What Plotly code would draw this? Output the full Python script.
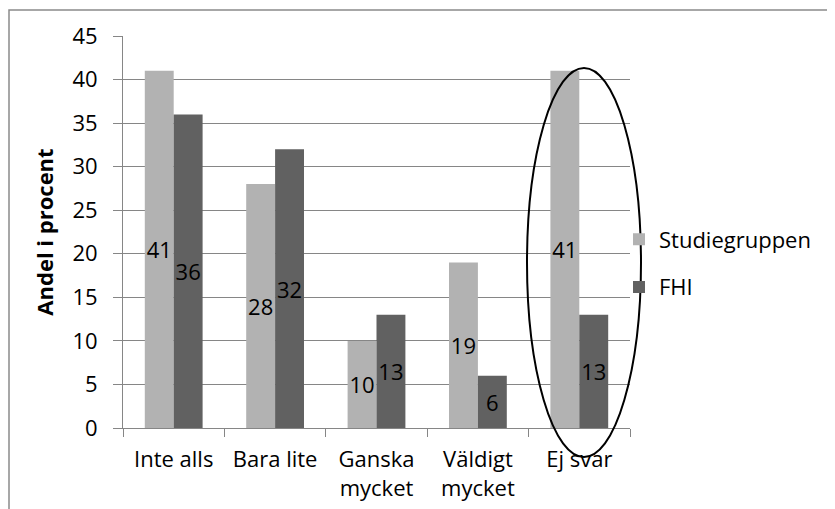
import plotly.graph_objects as go

categories = ["Inte alls", "Bara lite", "Ganska<br>mycket", "Väldigt<br>mycket", "Ej svar"]
studiegruppen = [41, 28, 10, 19, 41]
fhi = [36, 32, 13, 6, 13]
series_names = ["Studiegruppen", "FHI"]
y_ticks = [0, 5, 10, 15, 20, 25, 30, 35, 40, 45]

FONT = "Open Sans"
GRID = "#868686"
FS = 22

fig = go.Figure()
fig.add_trace(go.Bar(
    x=categories, y=studiegruppen, name=series_names[0],
    marker=dict(color="#b2b2b2", line=dict(width=0)),
    text=[str(v) for v in studiegruppen], textposition="inside",
    insidetextanchor="middle", constraintext="none",
    insidetextfont=dict(color="black", size=FS, family=FONT),
    legendgroup="a",
))
fig.add_trace(go.Bar(
    x=categories, y=fhi, name=series_names[1],
    marker=dict(color="#616161", line=dict(width=0)),
    text=[str(v) for v in fhi], textposition="inside",
    insidetextanchor="middle", constraintext="none",
    insidetextfont=dict(color="black", size=FS, family=FONT),
    legendgroup="b",
))

OFF = 8  # page body offset
W, H = 835 - OFF, 509 - OFF
L, R, T, B = 123 - OFF, 205, 36 - OFF, 81
pw = W - L - R
ph = H - T - B

def px_x(p):
    return (p - OFF - L) / pw

def px_y(p):
    return (H - B - (p - OFF)) / ph

fig.update_layout(
    width=W, height=H,
    margin=dict(l=L, r=R, t=T, b=B, autoexpand=False),
    paper_bgcolor="white", plot_bgcolor="white",
    font=dict(family=FONT, size=FS, color="black"),
    barmode="group", bargap=0.43, bargroupgap=0,
    showlegend=True,
    legend=dict(x=px_x(619), xanchor="left", y=px_y(263.5), yanchor="middle",
                font=dict(size=FS, family=FONT), tracegroupgap=16,
                traceorder="grouped", bgcolor="rgba(0,0,0,0)"),
    xaxis=dict(showline=True, linecolor=GRID, linewidth=1,
               ticks="outside", ticklen=8, tickcolor=GRID, tickson="boundaries",
               showgrid=False, tickfont=dict(size=FS, family=FONT),
               ticklabelstandoff=12),
    yaxis=dict(range=[0, 45], tickvals=y_ticks, showline=True, linecolor=GRID,
               linewidth=1, ticks="outside", ticklen=9, tickcolor=GRID,
               gridcolor=GRID, gridwidth=1, zeroline=False,
               tickfont=dict(size=FS, family=FONT), ticklabelstandoff=11,
               title=dict(text="<b>Andel i procent</b>", font=dict(size=FS, family=FONT),
                          standoff=12)),
    shapes=[
        dict(type="rect", xref="paper", yref="paper",
             x0=px_x(9), x1=px_x(900), y0=px_y(600), y1=px_y(10),
             line=dict(color="#8a8a8a", width=1.5), layer="below"),
        dict(type="circle", xref="paper", yref="paper",
             x0=px_x(527), x1=px_x(641), y0=px_y(457), y1=px_y(68),
             line=dict(color="black", width=2), layer="above"),
    ],
)

fig.write_html("out.html")
